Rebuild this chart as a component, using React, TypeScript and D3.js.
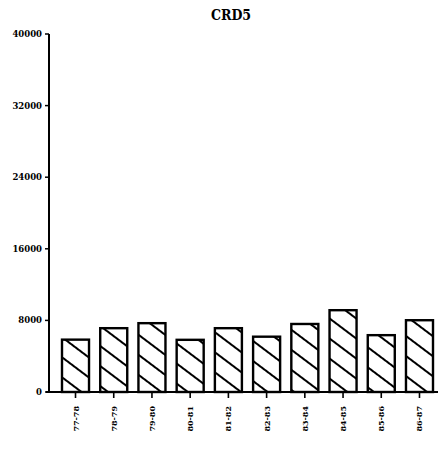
import React from "react";
import * as d3 from "d3";

const categories = ["77-78", "78-79", "79-80", "80-81", "81-82", "82-83", "83-84", "84-85", "85-86", "86-87"];
const values = [5850, 7130, 7690, 5830, 7130, 6180, 7600, 9140, 6350, 8020];
const yTicks = [0, 8000, 16000, 24000, 32000, 40000];
const title = "CRD5";

export default function App() {
  const W = 438, H = 460;
  const x0 = 49, x1 = 441;
  const yTop = 34, yBot = 392;
  const x = d3.scaleBand<string>().domain(categories).range([62, 433]).paddingInner(0.293).paddingOuter(0);
  const y = d3.scaleLinear().domain([0, 40000]).range([yBot, yTop]);
  const font = "'DejaVu Serif', serif";
  return (
    <svg width={W} height={H} style={{ position: "absolute", left: 0, top: 0, background: "#fff" }}>
      <defs>
        <pattern id="hatch" patternUnits="userSpaceOnUse" width="40" height="16" patternTransform="rotate(37)">
          <line x1="0" y1="8" x2="40" y2="8" stroke="#000" strokeWidth="2.2" />
        </pattern>
      </defs>
      <rect width={W} height={H} fill="#fff" />
      <text x={231} y={20} textAnchor="middle" fontFamily="'DejaVu Serif Condensed', 'DejaVu Serif', serif" fontWeight="bold" fontSize={14}>{title}</text>
      {categories.map((c, i) => {
        const bx = x(c)!;
        const by = y(values[i]);
        return (
          <g key={c}>
            <rect x={bx} y={by} width={x.bandwidth()} height={yBot - by} fill="url(#hatch)" stroke="#000" strokeWidth={2.4} />
            <line x1={bx + x.bandwidth() / 2} x2={bx + x.bandwidth() / 2} y1={yBot} y2={yBot + 6} stroke="#000" strokeWidth={1.6} />
            <text transform={`translate(${bx + x.bandwidth() / 2 + 3},${yBot + 14}) rotate(-90)`} textAnchor="end" fontFamily={font} fontWeight="bold" fontSize={8}>{c}</text>
          </g>
        );
      })}
      <line x1={x0} x2={x0} y1={yTop} y2={yBot} stroke="#000" strokeWidth={2} />
      <line x1={x0 - 3} x2={x1} y1={yBot} y2={yBot} stroke="#000" strokeWidth={2.2} />
      {yTicks.map((t) => (
        <g key={t}>
          <line x1={x0 - 4} x2={x0} y1={y(t)} y2={y(t)} stroke="#000" strokeWidth={1.5} />
          <text x={x0 - 7} y={y(t) + 3} textAnchor="end" fontFamily={font} fontWeight="bold" fontSize={8.5}>{t}</text>
        </g>
      ))}
    </svg>
  );
}
